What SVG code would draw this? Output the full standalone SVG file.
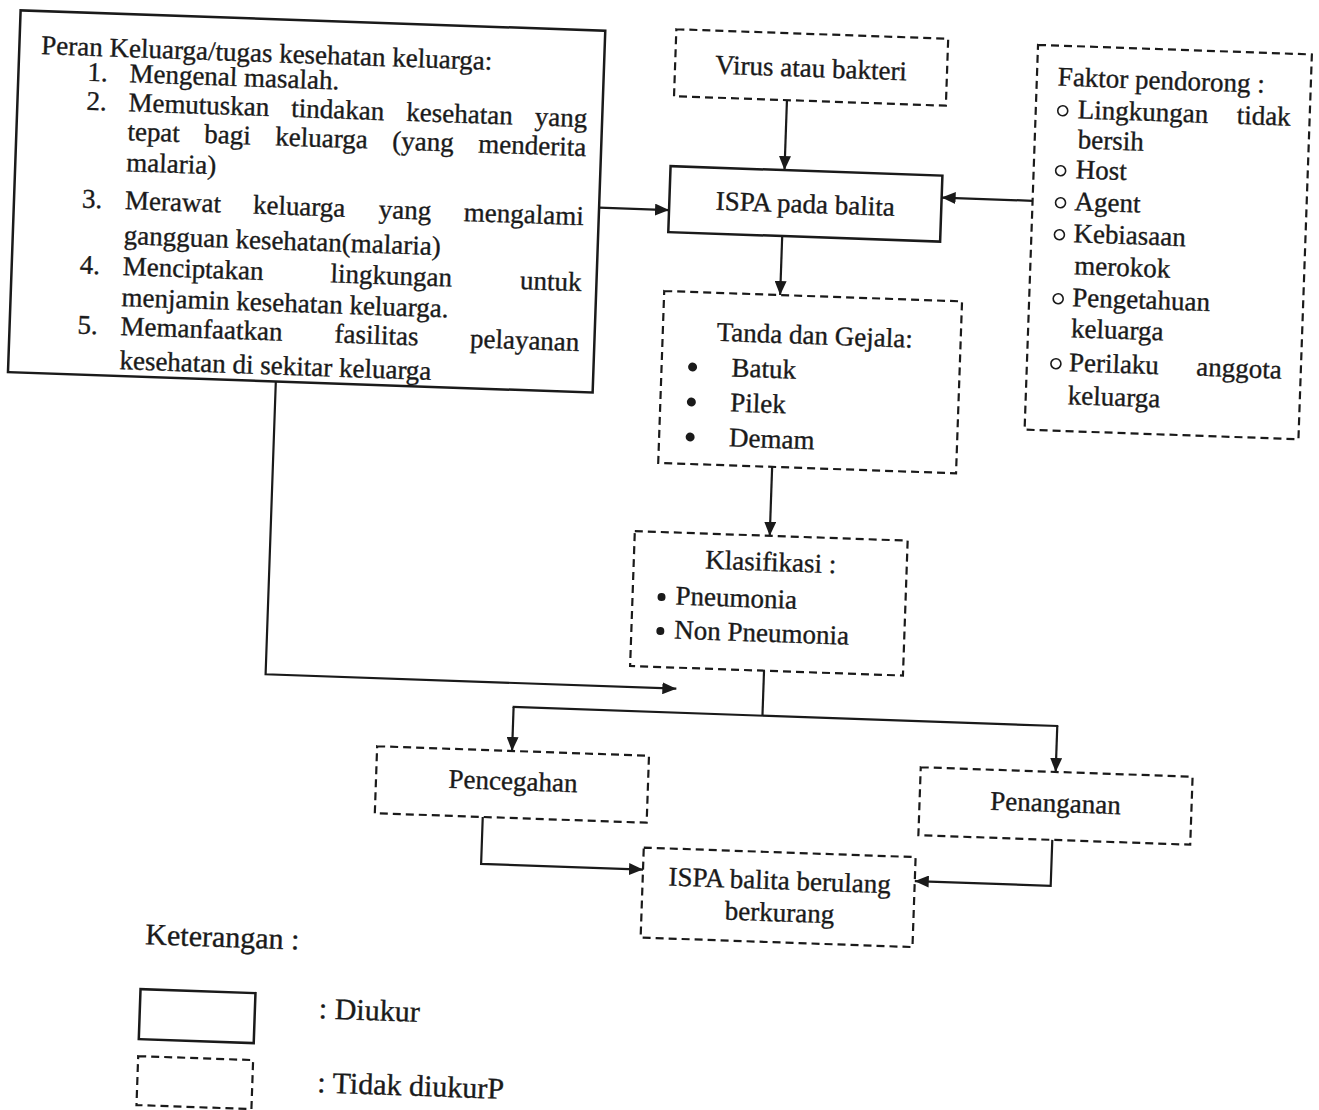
<svg xmlns="http://www.w3.org/2000/svg" width="1319" height="1110" viewBox="0 0 1319 1110">
<style>
text{font-family:"Liberation Serif","Times New Roman",serif;font-size:27px;fill:#1a1a1a;stroke:#1a1a1a;stroke-width:0.35}
.lg{font-size:30px}
.solid{fill:none;stroke:#1a1a1a;stroke-width:2.5}
.dash{fill:none;stroke:#1a1a1a;stroke-width:2.2;stroke-dasharray:8 5}
.conn{fill:none;stroke:#1a1a1a;stroke-width:2.2}
.mid{text-anchor:middle}
.hb{fill:none;stroke:#1a1a1a;stroke-width:1.6}
.fb{fill:#1a1a1a}
</style>
<defs>
<marker id="ah" viewBox="0 0 14 12" refX="14" refY="6" markerWidth="14" markerHeight="12" orient="auto" markerUnits="userSpaceOnUse"><path d="M0,0 L14,6 L0,12 z" fill="#1a1a1a"/></marker>
</defs>
<rect width="1319" height="1110" fill="#ffffff"/>
<g transform="rotate(2 660 555)">
<g id="connectors">
<line class="conn" x1="771" y1="96" x2="771" y2="166" marker-end="url(#ah)"/>
<line class="conn" x1="587" y1="210" x2="657" y2="210" marker-end="url(#ah)"/>
<line class="conn" x1="1020" y1="188" x2="929" y2="188" marker-end="url(#ah)"/>
<line class="conn" x1="771" y1="232" x2="771" y2="291" marker-end="url(#ah)"/>
<line class="conn" x1="769" y1="463" x2="769" y2="532" marker-end="url(#ah)"/>
<line class="conn" x1="768" y1="667" x2="768" y2="712"/>
<line class="conn" x1="518" y1="712" x2="1064" y2="712"/>
<line class="conn" x1="519" y1="712" x2="519" y2="756" marker-end="url(#ah)"/>
<line class="conn" x1="1063" y1="712" x2="1063" y2="758" marker-end="url(#ah)"/>
<polyline class="conn" points="270,395 270,688 681,688" marker-end="url(#ah)"/>
<polyline class="conn" points="492,823 492,870 654,870" marker-end="url(#ah)"/>
<polyline class="conn" points="1062,826 1062,872 926,872" marker-end="url(#ah)"/>
</g>
<g id="peran">
<rect class="solid" x="2" y="33" width="585" height="362"/>
<text x="24" y="76">Peran Keluarga/tugas kesehatan keluarga:</text>
<text x="71" y="101">1.</text><text x="113" y="101">Mengenal masalah.</text>
<text x="71" y="130">2.</text>
<text y="130"><tspan x="113">Memutuskan</tspan><tspan x="276">tindakan</tspan><tspan x="391">kesehatan</tspan><tspan x="572" text-anchor="end">yang</tspan></text>
<text y="159"><tspan x="113">tepat</tspan><tspan x="190">bagi</tspan><tspan x="261">keluarga</tspan><tspan x="378">(yang</tspan><tspan x="572" text-anchor="end">menderita</tspan></text>
<text x="113" y="190">malaria)</text>
<text x="70" y="228">3.</text>
<text y="228"><tspan x="113">Merawat</tspan><tspan x="241">keluarga</tspan><tspan x="367">yang</tspan><tspan x="572" text-anchor="end">mengalami</tspan></text>
<text x="113" y="263">gangguan kesehatan(malaria)</text>
<text x="70" y="294">4.</text>
<text y="294"><tspan x="113">Menciptakan</tspan><tspan x="321">lingkungan</tspan><tspan x="572" text-anchor="end">untuk</tspan></text>
<text x="113" y="325">menjamin kesehatan keluarga.</text>
<text x="70" y="354">5.</text>
<text y="354"><tspan x="113">Memanfaatkan</tspan><tspan x="327">fasilitas</tspan><tspan x="572" text-anchor="end">pelayanan</tspan></text>
<text x="113" y="388">kesehatan di sekitar keluarga</text>
</g>
<g id="virus">
<rect class="dash" x="658" y="29" width="272" height="67"/>
<text class="mid" x="794" y="72">Virus atau bakteri</text>
</g>
<g id="ispa">
<rect class="solid" x="657" y="166" width="272" height="66"/>
<text class="mid" x="793" y="208">ISPA pada balita</text>
</g>
<g id="faktor">
<rect class="dash" x="1020" y="32" width="274" height="385"/>
<text x="1041" y="72">Faktor pendorong :</text>
<circle class="hb" cx="1047" cy="97" r="5"/><text y="104"><tspan x="1062">Lingkungan</tspan><tspan x="1275" text-anchor="end">tidak</tspan></text>
<text x="1063" y="134">bersih</text>
<circle class="hb" cx="1047" cy="157" r="5"/><text x="1062" y="164">Host</text>
<circle class="hb" cx="1048" cy="189" r="5"/><text x="1062" y="196">Agent</text>
<circle class="hb" cx="1048" cy="221" r="5"/><text x="1062" y="228">Kebiasaan</text>
<text x="1064" y="260">merokok</text>
<circle class="hb" cx="1049" cy="285" r="5"/><text x="1063" y="292">Pengetahuan</text>
<text x="1063" y="323">keluarga</text>
<circle class="hb" cx="1049" cy="350" r="5"/><text y="357"><tspan x="1062">Perilaku</tspan><tspan x="1275" text-anchor="end">anggota</tspan></text>
<text x="1062" y="390">keluarga</text>
</g>
<g id="tanda">
<rect class="dash" x="655" y="291" width="298" height="172"/>
<text class="mid" x="807" y="339">Tanda dan Gejala:</text>
<circle class="fb" cx="686" cy="366" r="4.5"/><text x="725" y="374">Batuk</text>
<circle class="fb" cx="686" cy="401" r="4.5"/><text x="725" y="409">Pilek</text>
<circle class="fb" cx="686" cy="436" r="4.5"/><text x="725" y="444">Demam</text>
</g>
<g id="klasifikasi">
<rect class="dash" x="634" y="532" width="273" height="135"/>
<text class="mid" x="771" y="567">Klasifikasi :</text>
<circle class="fb" cx="663" cy="597" r="4"/><text x="677" y="604">Pneumonia</text>
<circle class="fb" cx="663" cy="631" r="4"/><text x="677" y="638">Non Pneumonia</text>
</g>
<g id="pencegahan">
<rect class="dash" x="384" y="756" width="272" height="67"/>
<text class="mid" x="521" y="795">Pencegahan</text>
</g>
<g id="penanganan">
<rect class="dash" x="928" y="758" width="272" height="68"/>
<text class="mid" x="1064" y="798">Penanganan</text>
</g>
<g id="berulang">
<rect class="dash" x="654" y="848" width="272" height="90"/>
<text class="mid" x="791" y="885">ISPA balita berulang</text>
<text class="mid" x="792" y="917">berkurang</text>
</g>
<g id="legend">
<text class="lg" x="159" y="962">Keterangan :</text>
<rect class="solid" x="156" y="1007" width="115" height="50"/>
<text class="lg" x="335" y="1030">: Diukur</text>
<rect class="dash" x="156" y="1074" width="115" height="49"/>
<text class="lg" x="336" y="1104">: Tidak diukurP</text>
</g>
</g>
</svg>
